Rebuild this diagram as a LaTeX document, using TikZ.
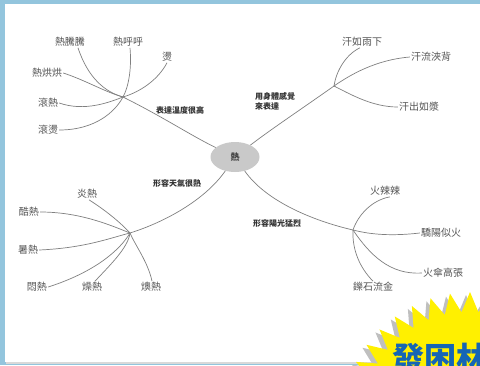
\documentclass[tikz,border=0pt]{standalone}
\usepackage{fontspec}
\usetikzlibrary{shapes.geometric}
\setmainfont{Noto Sans CJK TC}
\definecolor{framebl}{HTML}{93C5DD}
\definecolor{txtgray}{HTML}{555555}
\definecolor{linegray}{HTML}{808080}
\definecolor{ellgray}{HTML}{C9C9C9}
\definecolor{staryel}{HTML}{FFF000}
\definecolor{starblue}{HTML}{1565B5}
\begin{document}
\begin{tikzpicture}[x=1pt,y=-1pt,
  leaf/.style={font=\fontsize{10}{10}\selectfont, text=txtgray, inner sep=1pt},
  branch/.style={font=\fontsize{8}{10}\selectfont\bfseries, text=black!80, inner sep=0pt, align=left},
  link/.style={draw=linegray, line width=0.7pt},
  mainnode/.style={ellipse, fill=ellgray, minimum width=49pt, minimum height=30pt, inner sep=0pt, font=\fontsize{9}{9}\selectfont\bfseries, text=black!75}]
\useasboundingbox (0,0) rectangle (480,365);
\fill[framebl] (0,0) rectangle (480,365);
\fill[black!15] (6,5) rectangle (482,364);
\fill[white] (5,4) rectangle (482,362);

\node[mainnode] (c) at (235,157) {熱};

% hubs
\coordinate (h1) at (123,97);
\coordinate (h2) at (334,86);
\coordinate (h3) at (130,233);
\coordinate (h4) at (353,230);

% branch labels
\node[branch] (b1) at (180,110) {表達溫度很高};
\node[branch, anchor=west] (b2) at (255,101) {用身體感覺\\來表達};
\node[branch] (b3) at (177,183) {形容天氣很熱};
\node[branch] (b4) at (277,223) {形容陽光猛烈};

% leaves top-left
\node[leaf] (a1) at (70,42) {熱騰騰};
\node[leaf] (a2) at (128,42) {熱呼呼};
\node[leaf] (a3) at (167,57) {燙};
\node[leaf] (a4) at (47,73) {熱烘烘};
\node[leaf] (a5) at (48,103) {滾熱};
\node[leaf] (a6) at (48,130) {滾燙};

% leaves top-right
\node[leaf] (r1) at (362,42) {汗如雨下};
\node[leaf] (r2) at (431,57) {汗流浹背};
\node[leaf] (r3) at (419,107) {汗出如漿};

% leaves bottom-left
\node[leaf] (l1) at (87,194) {炎熱};
\node[leaf] (l2) at (29,212) {酷熱};
\node[leaf] (l3) at (28,250) {暑熱};
\node[leaf] (l4) at (37,287) {悶熱};
\node[leaf] (l5) at (92,287) {燥熱};
\node[leaf] (l6) at (151,287) {燠熱};

% leaves bottom-right
\node[leaf] (s1) at (385,191) {火辣辣};
\node[leaf] (s2) at (441,233) {驕陽似火};
\node[leaf] (s3) at (443,273) {火傘高張};
\node[leaf] (s4) at (373,287) {鑠石流金};

% main branches
\draw[link] (h1) .. controls (165,118) and (190,135) .. (c);
\draw[link] (h2) .. controls (300,110) and (270,130) .. (c);
\draw[link] (h3) .. controls (165,222) and (205,200) .. (c);
\draw[link] (h4) .. controls (310,220) and (265,200) .. (c);

% top-left twigs
\draw[link] ([xshift=8pt]a1.south) .. controls (88,78) and (105,92) .. (h1);
\draw[link] ([xshift=2pt]a2.south) .. controls (132,70) and (128,88) .. (h1);
\draw[link] (a3.south) .. controls (158,80) and (140,92) .. (h1);
\draw[link] (a4.east) .. controls (85,80) and (105,92) .. (h1);
\draw[link] (a5.east) .. controls (85,112) and (110,102) .. (h1);
\draw[link] (a6.east) .. controls (95,130) and (115,112) .. (h1);

% top-right twigs
\draw[link] ([xshift=-2pt]r1.south) .. controls (345,55) and (336,72) .. (h2);
\draw[link] (r2.west) .. controls (375,60) and (350,75) .. (h2);
\draw[link] (r3.west) .. controls (372,107) and (350,94) .. (h2);

% bottom-left twigs
\draw[link] ([xshift=2pt]l1.south) .. controls (105,210) and (120,222) .. (h3);
\draw[link] (l2.east) .. controls (80,212) and (110,225) .. (h3);
\draw[link] (l3.east) .. controls (85,248) and (110,238) .. (h3);
\draw[link] (l4.east) .. controls (95,272) and (120,250) .. (h3);
\draw[link] ([xshift=3pt]l5.north) .. controls (110,265) and (128,248) .. (h3);
\draw[link] ([xshift=1pt]l6.north) .. controls (148,262) and (135,245) .. (h3);

% bottom-right twigs
\draw[link] ([xshift=5pt]s1.south) .. controls (372,200) and (358,215) .. (h4);
\draw[link] (s2.west) .. controls (385,237) and (365,233) .. (h4);
\draw[link] (s3.west) .. controls (390,275) and (370,255) .. (h4);
\draw[link] (s4.north) .. controls (360,268) and (352,250) .. (h4);

% starburst
\begin{scope}
\clip (0,0) rectangle (480,365);
\fill[black!25, shift={(466,423)}] plot[samples at={0,4.5,...,355.5}] (\x:{108+20*abs(mod(\x,9)-4.5)/4.5}) -- cycle;
\fill[staryel, shift={(470,420)}] plot[samples at={0,4.5,...,355.5}] (\x:{108+20*abs(mod(\x,9)-4.5)/4.5}) -- cycle;
\node[anchor=base west, inner sep=0pt, font=\fontsize{32}{32}\selectfont\bfseries, text=starblue] (title) at (392,370) {發困林};
\end{scope}
\end{tikzpicture}
\end{document}
